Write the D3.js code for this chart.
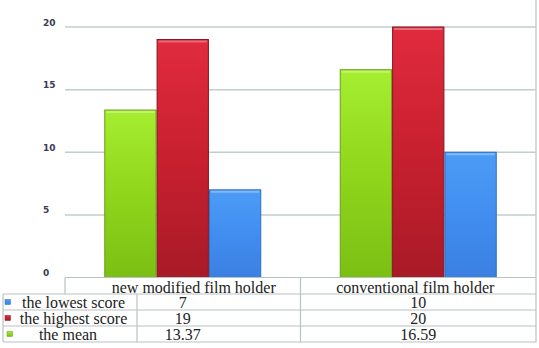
<!DOCTYPE html>
<html>
<head>
<meta charset="utf-8">
<script src="https://cdn.jsdelivr.net/npm/d3@7"></script>
<style>
body { margin: 0; background: #fff; }
svg { display: block; }
.tbl { font-family: "Liberation Serif", "Times New Roman", serif; font-size: 16px; fill: #222; }
.ylab { font-family: "DejaVu Sans", sans-serif; font-size: 9px; font-weight: bold; fill: #3b3b55; }
</style>
</head>
<body>
<script>
// chart values
var categories = ["new modified film holder", "conventional film holder"];
var barSeries = ["the mean", "the highest score", "the lowest score"];
var tableRows = ["the lowest score", "the highest score", "the mean"];
var lowest = [7, 10];
var highest = [19, 20];
var mean = [13.37, 16.59];
var meanLabels = ["13.37", "16.59"];
var yTicks = [0, 5, 10, 15, 20];

var values = {"the lowest score": lowest, "the highest score": highest, "the mean": mean};
var labels = {"the lowest score": lowest.map(String), "the highest score": highest.map(String), "the mean": meanLabels};

var width = 539, height = 348;
var svg = d3.select("body").append("svg").attr("width", width).attr("height", height);

var left = 65, right = 536, top0 = 27, base = 277.5;

var defs = svg.append("defs");
var grads = {
	"the mean": ["#a6ee30", "#8fd61c", "#7cbf14"],
	"the highest score": ["#e02b3e", "#c8202f", "#a81a27"],
	"the lowest score": ["#4b9cf6", "#418ef0", "#3a80e2"]
};
var strokes = {"the mean": "#6e9e1a", "the highest score": "#8a1520", "the lowest score": "#2e6cc0"};
var keys = {"the mean": "g0", "the highest score": "g1", "the lowest score": "g2"};
barSeries.forEach(function(s) {
	var lg = defs.append("linearGradient").attr("id", keys[s]).attr("x1", 0).attr("y1", 0).attr("x2", 0).attr("y2", 1);
	lg.append("stop").attr("offset", "0%").attr("stop-color", grads[s][0]);
	lg.append("stop").attr("offset", "50%").attr("stop-color", grads[s][1]);
	lg.append("stop").attr("offset", "100%").attr("stop-color", grads[s][2]);
});

var x0 = d3.scaleBand().domain(categories).range([left, right]);
// gap width 150% -> bars take 3/4.5 of the band
var inner = x0.bandwidth() * 3 / 4.5;
var x1 = d3.scaleBand().domain(barSeries).range([0, inner]);
var y = d3.scaleLinear().domain([0, 20]).range([base, top0]);

// gridlines
svg.append("g").selectAll("line")
.data(yTicks.filter(function(d) { return d > 0; }))
.enter().append("line")
.attr("x1", left).attr("x2", right)
.attr("y1", function(d) { return y(d); }).attr("y2", function(d) { return y(d); })
.attr("stroke", "#c2cecd").attr("stroke-width", 1.5);

// right border of plot
svg.append("line").attr("x1", right).attr("x2", right).attr("y1", 0).attr("y2", base)
.attr("stroke", "#c2cecd").attr("stroke-width", 1.5);

// y labels
svg.append("g").selectAll("text")
.data(yTicks)
.enter().append("text")
.attr("class", "ylab")
.attr("x", 43)
.attr("y", function(d) { return y(d) - 1.5; })
.text(function(d) { return d; });

// bars
var grp = svg.append("g").selectAll("g")
.data(categories)
.enter().append("g")
.attr("transform", function(d) { return "translate(" + (x0(d) + (x0.bandwidth() - inner) / 2) + ",0)"; });

grp.selectAll("rect")
.data(function(c, i) { return barSeries.map(function(s) { return {s: s, v: values[s][i]}; }); })
.enter().append("rect")
.attr("x", function(d) { return x1(d.s) + 0.5; })
.attr("width", x1.bandwidth() - 1)
.attr("y", function(d) { return y(d.v); })
.attr("height", function(d) { return base - y(d.v); })
.attr("fill", function(d) { return "url(#" + keys[d.s] + ")"; })
.attr("stroke", function(d) { return strokes[d.s]; })
.attr("stroke-width", 1);

// light bevel at top of bars
grp.selectAll("line.bevel")
.data(function(c, i) { return barSeries.map(function(s) { return {s: s, v: values[s][i]}; }); })
.enter().append("line")
.attr("class", "bevel")
.attr("x1", function(d) { return x1(d.s) + 2; })
.attr("x2", function(d) { return x1(d.s) + x1.bandwidth() - 2; })
.attr("y1", function(d) { return y(d.v) + 2; })
.attr("y2", function(d) { return y(d.v) + 2; })
.attr("stroke", "#ffffff").attr("stroke-opacity", 0.3).attr("stroke-width", 2);

// data table
var tcol = "#b7c3c2";
var rowTop = 294, rowH = 16, legLeft = 3, legRight = 137, mid = x0(categories[1]);
var t = svg.append("g");
function hline(x1_, x2_, yy) {
	t.append("line").attr("x1", x1_).attr("x2", x2_).attr("y1", yy).attr("y2", yy).attr("stroke", tcol).attr("stroke-width", 1.2);
}
function vline(xx, y1_, y2_) {
	t.append("line").attr("x1", xx).attr("x2", xx).attr("y1", y1_).attr("y2", y2_).attr("stroke", tcol).attr("stroke-width", 1.2);
}
hline(left, right, base);
tableRows.forEach(function(r, i) { hline(legLeft, right, rowTop + i * rowH); });
hline(legLeft, right, rowTop + tableRows.length * rowH);
vline(left, base, rowTop);
vline(mid, base, rowTop + tableRows.length * rowH);
vline(right, base, rowTop + tableRows.length * rowH);
vline(legLeft, rowTop, rowTop + tableRows.length * rowH);
vline(legRight, rowTop, rowTop + tableRows.length * rowH);

// category headers (first one sits a little right of its column centre)
t.selectAll("text.cat")
.data(categories)
.enter().append("text")
.attr("class", "tbl")
.attr("x", function(d, i) { return x0(d) + x0.bandwidth() / 2 + (i === 0 ? 11 : -3); })
.attr("y", 292.5)
.attr("text-anchor", "middle")
.text(function(d) { return d; });

// legend rows
var rows = t.selectAll("g.row")
.data(tableRows)
.enter().append("g")
.attr("transform", function(d, i) { return "translate(0," + (rowTop + i * rowH) + ")"; });

rows.append("rect")
.attr("x", function(d) { return d === "the mean" ? 7 : 5; })
.attr("y", 5.5)
.attr("width", 5.5).attr("height", 5)
.attr("fill", function(d) { return "url(#" + keys[d] + ")"; })
.attr("stroke", function(d) { return strokes[d]; })
.attr("stroke-width", 0.5);

rows.append("text")
.attr("class", "tbl")
.attr("x", function(d) { return d === "the mean" ? 68 : 73.5; })
.attr("y", 14)
.attr("text-anchor", "middle")
.text(function(d) { return d; });

rows.selectAll("text.val")
.data(function(r) { return categories.map(function(c, i) { return {c: c, t: labels[r][i]}; }); })
.enter().append("text")
.attr("class", "tbl")
.attr("x", function(d) { return x0(d.c) + x0.bandwidth() / 2; })
.attr("y", 14)
.attr("text-anchor", "middle")
.text(function(d) { return d.t; });
</script>
</body>
</html>
